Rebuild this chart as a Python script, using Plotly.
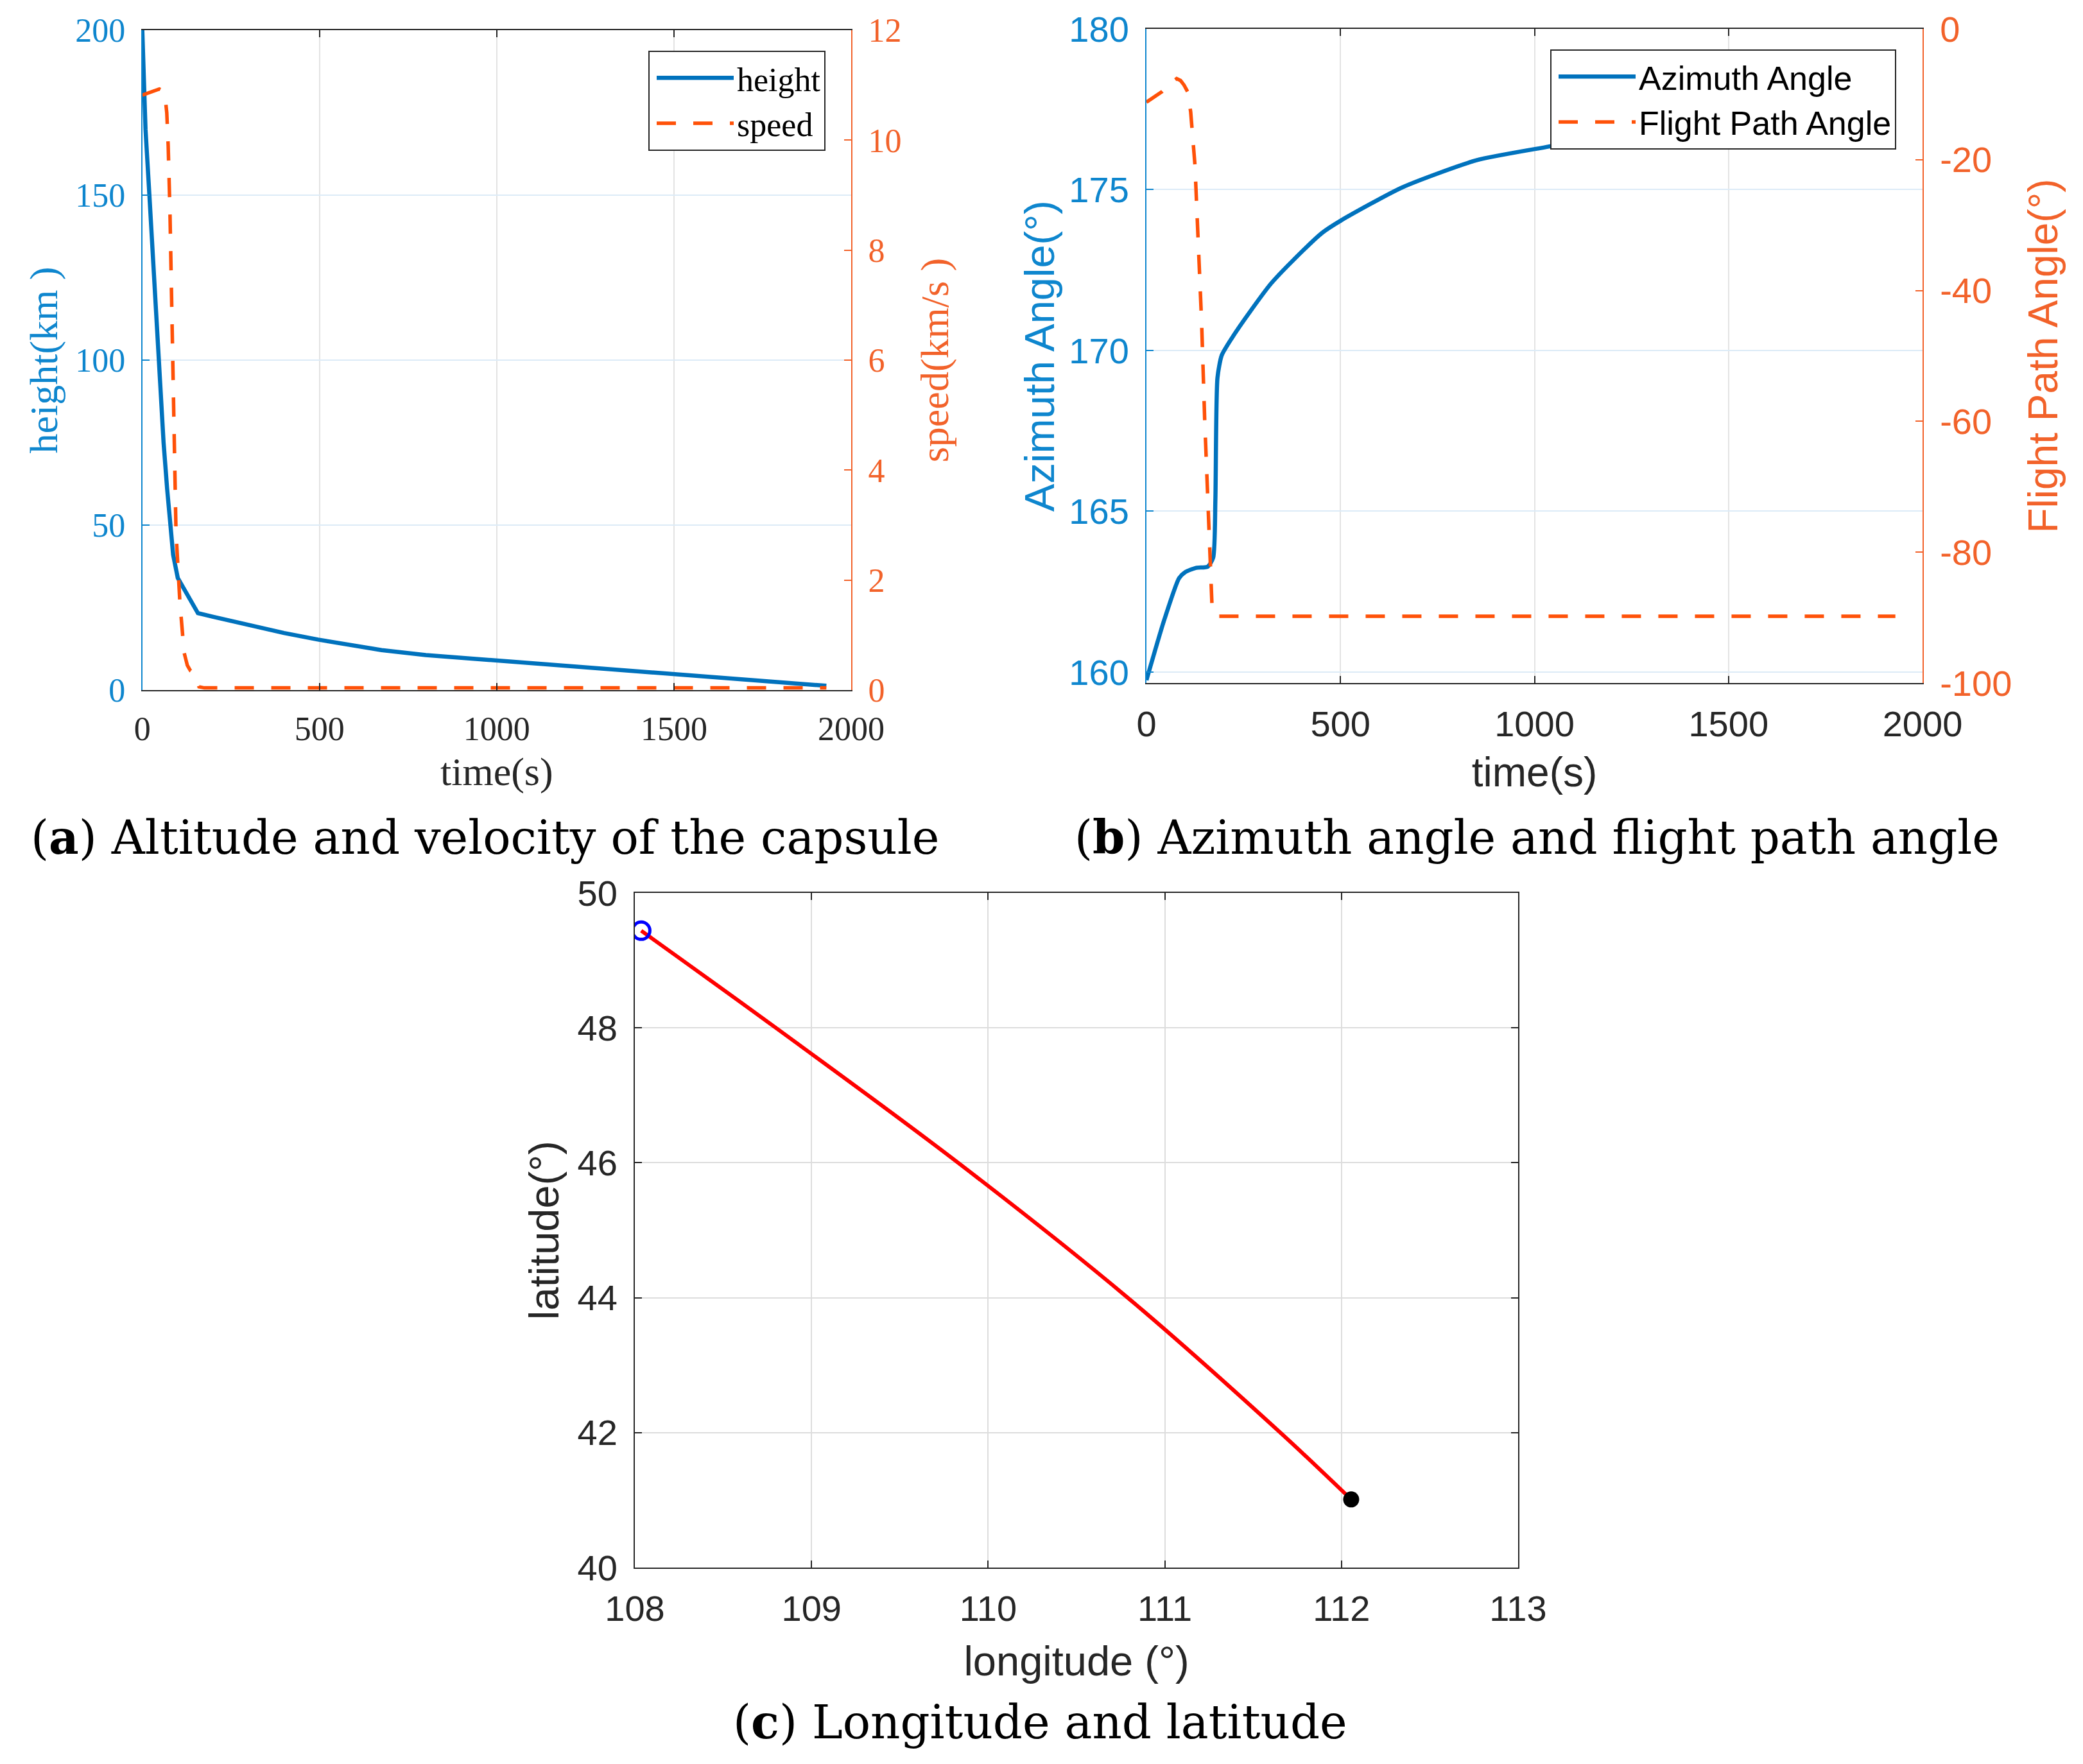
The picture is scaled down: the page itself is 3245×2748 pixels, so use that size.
import plotly.graph_objects as go

W, H = 3245, 2748

# ---------------- (a) altitude and velocity ----------------
time_h = [0, 9, 20, 32, 46, 60, 70, 79, 87, 100, 157, 200, 316, 400, 496, 675, 800, 1007, 1250, 1510, 1750, 1930]
height_km = [200, 170, 150, 127, 100, 75, 61, 50, 41, 34, 23.3, 22.2, 19.3, 17.3, 15.3, 12.1, 10.6, 8.9, 6.8, 4.7, 2.8, 1.3]

time_v = [0, 48, 58, 64, 69, 73, 78, 82, 86, 90, 95, 100, 106, 118, 127, 136, 145, 154, 160, 175, 1930]
speed_kms = [10.82, 10.93, 10.9, 10.8, 10.5, 9.9, 8.7, 7.5, 6.1, 4.5, 2.9, 2.3, 1.6, 0.68, 0.45, 0.35, 0.3, 0.21, 0.06, 0.04, 0.04]

# ---------------- (b) azimuth and flight path angle ----------------
time_az = [0, 45, 84, 100, 128, 158, 172, 177.6, 183, 194, 222, 266, 321, 376, 453, 501, 659, 852, 1063, 1100, 1300, 1500, 1700, 1900]
azimuth_deg = [159.75, 161.59, 162.92, 163.11, 163.24, 163.28, 163.56, 165.34, 169.15, 169.85, 170.42, 171.19,
               172.08, 172.78, 173.66, 174.04, 175.07, 175.92, 176.4, 176.52, 176.9, 177.2, 177.45, 177.6]

time_fpa = [0, 40, 65, 78, 88, 97, 106, 114, 125, 134, 142, 150, 158, 165.5, 169, 175, 180, 1930]
fpa_deg = [-11.2, -9.6, -8.2, -7.6, -7.9, -8.6, -9.6, -12.7, -20.8, -32.7, -44.6, -59.6, -72.1, -84.6, -88.3, -89.5,
           -89.8, -89.8]

# ---------------- (c) ground track ----------------
longitude = [108.036, 108.798, 109.83, 110.79, 111.654, 112.055]
latitude = [49.44, 48.0, 46.0, 44.0, 42.0, 41.01]

# tick values
ticks_time = [0, 500, 1000, 1500, 2000]
ticks_height = [0, 50, 100, 150, 200]
ticks_speed = [0, 2, 4, 6, 8, 10, 12]
ticks_az = [160, 165, 170, 175, 180]
ticks_fpa = [-100, -80, -60, -40, -20, 0]
ticks_lon = [108, 109, 110, 111, 112, 113]
ticks_lat = [40, 42, 44, 46, 48, 50]

BLUE_LINE = "#0072BD"
BLUE_TXT = "#0E86CE"
ORANGE_LINE = "#FF5108"
ORANGE_TXT = "#F2622A"
DARK = "#262626"
GRID_V = "#E3E3E3"
GRID_H = "#DCEBF7"
GRID_C = "#DDDDDD"
SERIF = "Liberation Serif"
SANS = "Liberation Sans"
CAPTION = "DejaVu Serif"


def fx(px):
    return px / W


def fy(py):
    return 1 - py / H


fig = go.Figure()

# (a)
fig.add_trace(go.Scatter(x=time_h, y=height_km, mode="lines", name="height",
                         line=dict(color=BLUE_LINE, width=6.5), xaxis="x", yaxis="y", legend="legend"))
fig.add_trace(go.Scatter(x=time_v, y=speed_kms, mode="lines", name="speed",
                         line=dict(color=ORANGE_LINE, width=5.5, dash="30px,27px"),
                         xaxis="x", yaxis="y2", legend="legend"))
# (b)
fig.add_trace(go.Scatter(x=time_az, y=azimuth_deg, mode="lines", name="Azimuth Angle",
                         line=dict(color=BLUE_LINE, width=6.5, shape="spline", smoothing=0.6),
                         xaxis="x2", yaxis="y3", legend="legend2"))
fig.add_trace(go.Scatter(x=time_fpa, y=fpa_deg, mode="lines", name="Flight Path Angle",
                         line=dict(color=ORANGE_LINE, width=5.5, dash="30px,27px"),
                         xaxis="x2", yaxis="y4", legend="legend2"))
# (c)
fig.add_trace(go.Scatter(x=longitude, y=latitude, mode="lines", showlegend=False,
                         line=dict(color="#FF0000", width=6, shape="spline", smoothing=1.0),
                         xaxis="x3", yaxis="y5"))
fig.add_trace(go.Scatter(x=[longitude[0]], y=[latitude[0]], mode="markers", showlegend=False,
                         marker=dict(symbol="circle-open", size=27, color="#0000FF",
                                     line=dict(color="#0000FF", width=5)),
                         xaxis="x3", yaxis="y5"))
fig.add_trace(go.Scatter(x=[longitude[-1]], y=[latitude[-1]], mode="markers", showlegend=False,
                         marker=dict(symbol="circle", size=25, color="#000000"),
                         xaxis="x3", yaxis="y5"))

common = dict(ticks="inside", ticklen=11, tickwidth=2, showline=True, linewidth=2,
              zeroline=False, automargin=False)


def labels(vals):
    return [str(v) for v in vals]


def xax(domain, anchor, rng, tvals, family, tsize, title, tsz, standoff, gridcolor):
    return dict(domain=domain, anchor=anchor, range=rng, tickvals=tvals, ticktext=labels(tvals),
                linecolor=DARK, tickcolor=DARK, mirror="ticks",
                showgrid=True, gridcolor=gridcolor, gridwidth=2,
                tickfont=dict(family=family, size=tsize, color=DARK),
                ticklabelstandoff=14,
                title=dict(text=title, font=dict(family=family, size=tsz, color=DARK), standoff=standoff),
                **common)


layout = dict(
    width=W, height=H, autosize=False,
    margin=dict(l=0, r=0, t=0, b=0, pad=0),
    paper_bgcolor="white", plot_bgcolor="white",
    showlegend=True,
    xaxis=xax([fx(221.7), fx(1326)], "y", [0, 2000], ticks_time, SERIF, 52, "time(s)", 62, 16, GRID_V),
    yaxis=dict(domain=[fy(1075), fy(47)], anchor="x", range=[0, 200], tickvals=ticks_height,
               ticktext=labels(ticks_height),
               linecolor=BLUE_TXT, tickcolor=BLUE_TXT, showgrid=True, gridcolor=GRID_H, gridwidth=2,
               tickfont=dict(family=SERIF, size=52, color=BLUE_TXT), ticklabelstandoff=14,
               title=dict(text="height(km )", font=dict(family=SERIF, size=62, color=BLUE_TXT), standoff=8),
               **common),
    yaxis2=dict(overlaying="y", side="right", anchor="x", range=[0, 12], tickvals=ticks_speed,
                ticktext=labels(ticks_speed),
                linecolor=ORANGE_TXT, tickcolor=ORANGE_TXT, showgrid=False,
                tickfont=dict(family=SERIF, size=52, color=ORANGE_TXT), ticklabelstandoff=14,
                title=dict(text="speed(km/s )", font=dict(family=SERIF, size=62, color=ORANGE_TXT), standoff=30),
                **common),
    xaxis2=xax([fx(1786), fx(2995)], "y3", [0, 2000], ticks_time, SANS, 56, "time(s)", 64, 22, GRID_V),
    yaxis3=dict(domain=[fy(1064), fy(45)], anchor="x2", range=[159.66, 180], tickvals=ticks_az,
                ticktext=labels(ticks_az),
                linecolor=BLUE_TXT, tickcolor=BLUE_TXT, showgrid=True, gridcolor=GRID_H, gridwidth=2,
                tickfont=dict(family=SANS, size=56, color=BLUE_TXT), ticklabelstandoff=14,
                title=dict(text="Azimuth Angle(°)", font=dict(family=SANS, size=65, color=BLUE_TXT), standoff=2),
                **common),
    yaxis4=dict(overlaying="y3", side="right", anchor="x2", range=[-100, 0], tickvals=ticks_fpa,
                ticktext=labels(ticks_fpa),
                linecolor=ORANGE_TXT, tickcolor=ORANGE_TXT, showgrid=False,
                tickfont=dict(family=SANS, size=56, color=ORANGE_TXT), ticklabelstandoff=14,
                title=dict(text="Flight Path Angle(°)", font=dict(family=SANS, size=64, color=ORANGE_TXT), standoff=27),
                **common),
    xaxis3=xax([fx(989), fx(2365)], "y5", [108, 113], ticks_lon, SANS, 56, "longitude (°)", 65, 28, GRID_C),
    yaxis5=dict(domain=[fy(2442), fy(1391)], anchor="x3", range=[40, 50], tickvals=ticks_lat,
                ticktext=labels(ticks_lat),
                linecolor=DARK, tickcolor=DARK, mirror="ticks", showgrid=True, gridcolor=GRID_C, gridwidth=2,
                tickfont=dict(family=SANS, size=56, color=DARK), ticklabelstandoff=14,
                title=dict(text="latitude(°)", font=dict(family=SANS, size=65, color=DARK), standoff=8),
                **common),
    legend=dict(x=fx(1010), y=fy(79), xanchor="left", yanchor="top", bgcolor="white",
                bordercolor=DARK, borderwidth=2, font=dict(family=SERIF, size=52, color="#000000"),
                itemwidth=120, tracegroupgap=0, indentation=6),
    legend2=dict(x=fx(2415), y=fy(77), xanchor="left", yanchor="top", bgcolor="white",
                 bordercolor=DARK, borderwidth=2, font=dict(family=SANS, size=52, color="#000000"),
                 itemwidth=120, tracegroupgap=0, indentation=6),
    annotations=[
        dict(text="(<b>a</b>) Altitude and velocity of the capsule", x=fx(755), y=fy(1304),
             xref="paper", yref="paper", xanchor="center", yanchor="middle", showarrow=False,
             font=dict(family=CAPTION, size=72, color="#000000")),
        dict(text="(<b>b</b>) Azimuth angle and flight path angle", x=fx(2394), y=fy(1304),
             xref="paper", yref="paper", xanchor="center", yanchor="middle", showarrow=False,
             font=dict(family=CAPTION, size=72, color="#000000")),
        dict(text="(<b>c</b>) Longitude and latitude", x=fx(1620), y=fy(2682),
             xref="paper", yref="paper", xanchor="center", yanchor="middle", showarrow=False,
             font=dict(family=CAPTION, size=72, color="#000000")),
    ],
)

fig.update_layout(**layout)

fig.write_html("out.html", config={"displayModeBar": False},
               post_script="document.body.style.margin='0px';")
